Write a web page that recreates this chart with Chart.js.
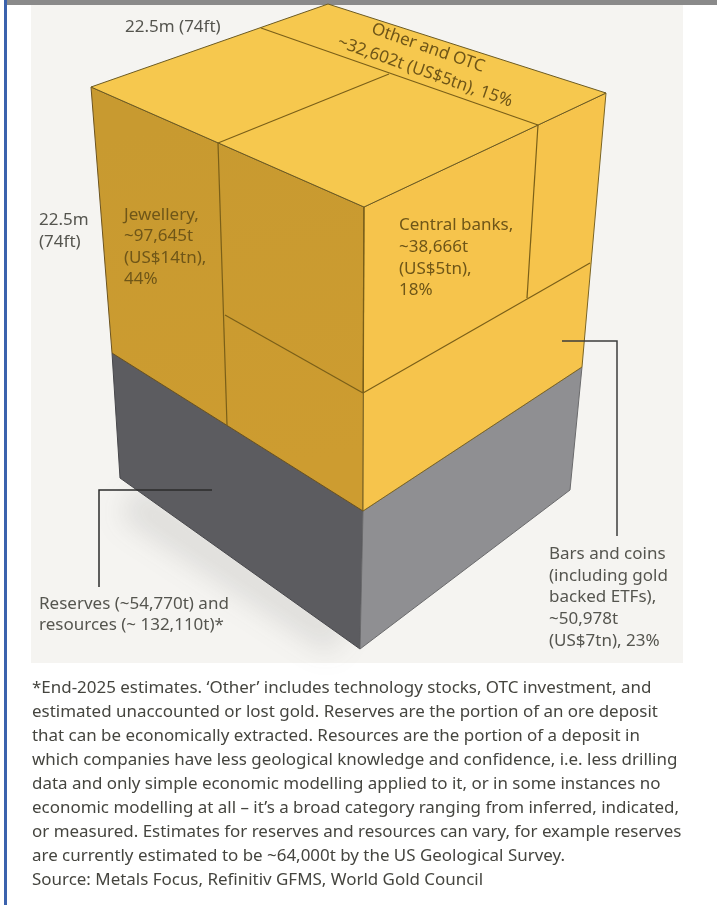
<!DOCTYPE html>
<html lang="en">
<head>
<meta charset="utf-8">
<title>Above-ground gold stocks</title>
<script src="https://cdn.jsdelivr.net/npm/chart.js@4"></script>
<style>
  body { margin: 0; background: #fff; width: 717px; height: 905px; overflow: hidden; position: relative; font-family: "Noto Sans", sans-serif; }
  #barra { position: absolute; left: 7px; top: 0; width: 710px; height: 5px; background: #8a8a8a; }
  #borde { position: absolute; left: 4px; top: 0; width: 3px; height: 905px; background: #3b62ad; }
  #panel { position: absolute; left: 31px; top: 5px; width: 652px; height: 658px; background: #f5f4f1; overflow: hidden; }
  #grafico { position: absolute; left: 0; top: 0; }
  #nota { position: absolute; left: 32px; top: 675px; font-size: 16.95px; line-height: 24px; color: #45453f; white-space: pre; margin: 0; }
</style>
</head>
<body>
<div id="panel"></div>
<div id="barra"></div>
<div id="borde"></div>
<canvas id="grafico" width="717" height="905"></canvas>
<p id="nota">*End-2025 estimates. ‘Other’ includes technology stocks, OTC investment, and
estimated unaccounted or lost gold. Reserves are the portion of an ore deposit
that can be economically extracted. Resources are the portion of a deposit in
which companies have less geological knowledge and confidence, i.e. less drilling
data and only simple economic modelling applied to it, or in some instances no
economic modelling at all – it’s a broad category ranging from inferred, indicated,
or measured. Estimates for reserves and resources can vary, for example reserves
are currently estimated to be ~64,000t by the US Geological Survey.
Source: Metals Focus, Refinitiv GFMS, World Gold Council</p>
<script>
// Holdings shown on the cube
const categorias = ['Jewellery', 'Central banks', 'Bars and coins', 'Other and OTC'];
const toneladas = [97645, 38666, 50978, 32602];
const usdTn = [14, 5, 7, 5];
const porcentajes = [44, 18, 23, 15];
const reservas = 54770;
const recursos = 132110;

// Cube faces, outline corners
const caraSuperiorX = [328, 606, 364, 91, 328];
const caraSuperiorY = [4, 93, 207, 87, 4];
const caraIzquierdaX = [91, 364, 363, 112, 91];
const caraIzquierdaY = [87, 207, 511, 353, 87];
const caraDerechaX = [364, 606, 582, 363, 364];
const caraDerechaY = [207, 93, 367, 511, 207];
const grisIzquierdaX = [112, 363, 360, 120, 112];
const grisIzquierdaY = [353, 511, 649, 478, 353];
const grisDerechaX = [363, 582, 570, 360, 363];
const grisDerechaY = [511, 367, 490, 649, 511];
const sombraX = [130, 340];
const sombraY = [500, 638];

// Dividing lines between the holdings
const divisiones = [
  { x: [261, 538], y: [28, 125] },
  { x: [389, 218], y: [74, 143] },
  { x: [218, 227], y: [143, 425] },
  { x: [225, 363], y: [315, 393] },
  { x: [363, 590], y: [393, 263] },
  { x: [538, 527], y: [125, 298] },
  { x: [364, 363], y: [207, 393] }
];

// Callout lines
const guiaBarrasX = [562, 617, 617];
const guiaBarrasY = [341, 341, 536];
const guiaReservasX = [212, 99, 99];
const guiaReservasY = [490, 490, 587];

const fmt = n => n.toLocaleString('en-US');
const puntos = (xs, ys) => xs.map((x, i) => ({ x, y: ys[i] }));

// Gradient helper, endpoints go through the chart scales
function degradado(x0, y0, x1, y1, colores) {
  return function (c) {
    const { x, y } = c.chart.scales;
    if (!c.chart.chartArea || !x || !y) return colores[0];
    const g = c.chart.ctx.createLinearGradient(
      x.getPixelForValue(x0), y.getPixelForValue(y0),
      x.getPixelForValue(x1), y.getPixelForValue(y1));
    colores.forEach((col, i) => g.addColorStop(i / (colores.length - 1), col));
    return g;
  };
}

function cara(xs, ys, relleno, borde) {
  return {
    data: puntos(xs, ys),
    showLine: true,
    fill: 'shape',
    backgroundColor: relleno,
    borderColor: borde,
    borderWidth: 1,
    pointRadius: 0,
    tension: 0
  };
}

function linea(xs, ys, color, ancho) {
  return {
    data: puntos(xs, ys),
    showLine: true,
    fill: false,
    borderColor: color,
    borderWidth: ancho,
    pointRadius: 0,
    tension: 0
  };
}

const datasets = [
  // las últimas del array se pintan primero
  linea(guiaReservasX, guiaReservasY, '#2b2b2b', 1.5),
  linea(guiaBarrasX, guiaBarrasY, '#3d3d3d', 1.5),
  ...divisiones.map(d => linea(d.x, d.y, '#7a5f18', 1.2)),
  cara(caraSuperiorX, caraSuperiorY, '#f6c84e', '#6b5a22'),
  cara(caraDerechaX, caraDerechaY, '#f6c44c', '#7a6424'),
  cara(caraIzquierdaX, caraIzquierdaY, degradado(200, 120, 260, 470, ['#c89a30', '#cd9c30']), '#6b5320'),
  cara(grisDerechaX, grisDerechaY, '#8f8f92', '#6a6a6c'),
  cara(grisIzquierdaX, grisIzquierdaY, '#5c5c60', '#47474b'),
  { ...linea(sombraX, sombraY, 'rgba(70,70,70,0.13)', 38), sombra: true }
];

// Text blocks: [x, y, line, colour, size]
const gris = '#55554f';
const oro = '#6f5618';
const textos = [
  [125, 27, '22.5m (74ft)', gris, 17],
  [39, 220, '22.5m', gris, 17],
  [39, 242, '(74ft)', gris, 17],
  [124, 215, `${categorias[0]},`, oro, 17],
  [124, 236, `~${fmt(toneladas[0])}t`, oro, 17],
  [124, 258, `(US$${usdTn[0]}tn),`, oro, 17],
  [124, 279, `${porcentajes[0]}%`, oro, 17],
  [399, 225, `${categorias[1]},`, oro, 17],
  [399, 247, `~${fmt(toneladas[1])}t`, oro, 17],
  [399, 269, `(US$${usdTn[1]}tn),`, oro, 17],
  [399, 290, `${porcentajes[1]}%`, oro, 17],
  [39, 604, `Reserves (~${fmt(reservas)}t) and`, gris, 17],
  [39, 625, `resources (~ ${fmt(recursos)}t)*`, gris, 17],
  [549, 554, categorias[2], gris, 17],
  [549, 576, '(including gold', gris, 17],
  [549, 597, 'backed ETFs),', gris, 17],
  [549, 619, `~${fmt(toneladas[2])}t`, gris, 17],
  [549, 641, `(US$${usdTn[2]}tn), ${porcentajes[2]}%`, gris, 17]
];
const textosGirados = [
  [428, 48, categorias[3], oro, 17, 19.2],
  [425, 72, `~${fmt(toneladas[3])}t (US$${usdTn[3]}tn), ${porcentajes[3]}%`, oro, 17, 19.2]
];

// Blur only on the ground shadow line
const pluginSombra = {
  id: 'sombra',
  beforeDatasetDraw(chart, args) {
    if (chart.data.datasets[args.index].sombra) chart.ctx.filter = 'blur(14px)';
  },
  afterDatasetDraw(chart, args) {
    if (chart.data.datasets[args.index].sombra) chart.ctx.filter = 'none';
  }
};

const pluginTextos = {
  id: 'textos',
  afterDatasetsDraw(chart) {
    const { ctx, scales: { x, y } } = chart;
    ctx.save();
    ctx.textBaseline = 'middle';
    for (const [px, py, t, color, tam] of textos) {
      ctx.font = `${tam}px "Noto Sans"`;
      ctx.fillStyle = color;
      ctx.textAlign = 'left';
      ctx.fillText(t, x.getPixelForValue(px), y.getPixelForValue(py));
    }
    for (const [px, py, t, color, tam, giro] of textosGirados) {
      ctx.save();
      ctx.translate(x.getPixelForValue(px), y.getPixelForValue(py));
      ctx.rotate(giro * Math.PI / 180);
      ctx.font = `${tam}px "Noto Sans"`;
      ctx.fillStyle = color;
      ctx.textAlign = 'center';
      ctx.fillText(t, 0, 0);
      ctx.restore();
    }
    ctx.restore();
  }
};

new Chart(document.getElementById('grafico').getContext('2d'), {
  type: 'scatter',
  data: { datasets },
  plugins: [pluginSombra, pluginTextos],
  options: {
    responsive: false,
    animation: false,
    devicePixelRatio: 1,
    layout: { padding: 0 },
    plugins: { legend: { display: false }, tooltip: { enabled: false } },
    scales: {
      x: { type: 'linear', min: 0, max: 717, display: false },
      y: { type: 'linear', min: 0, max: 905, reverse: true, display: false }
    }
  }
});
</script>
</body>
</html>
